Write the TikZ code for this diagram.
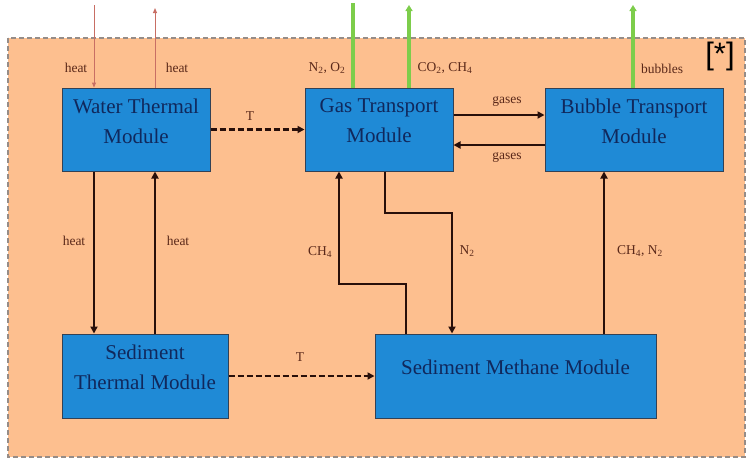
\documentclass[tikz,border=0pt]{standalone}
\usepackage{fontspec}
\setmainfont{Liberation Serif}
\newfontfamily\starfont{Liberation Sans}
\usetikzlibrary{arrows.meta,positioning}

\definecolor{lakebg}{RGB}{253,191,143}
\definecolor{lakeedge}{RGB}{150,140,135}
\definecolor{modfill}{RGB}{31,138,214}
\definecolor{modline}{RGB}{50,65,85}
\definecolor{modtext}{RGB}{16,40,92}
\definecolor{flowcol}{RGB}{40,15,10}
\definecolor{labcol}{RGB}{90,40,25}
\definecolor{gascol}{RGB}{125,205,75}
\definecolor{heatcol}{RGB}{200,110,100}

\tikzset{
  module/.style={draw=modline, fill=modfill, line width=1pt, inner sep=0pt},
  modtxt/.style={text=modtext, font=\fontsize{21}{30}\selectfont, align=center},
  flow/.style={draw=flowcol, line width=2.8pt, -{Triangle[length=7pt,width=7pt]}},
  tflow/.style={flow, dash pattern=on 6pt off 3pt},
  heatflow/.style={draw=heatcol, line width=1pt, -{Triangle[length=5pt,width=4pt]}},
  gasflow/.style={draw=gascol, line width=3.5pt, -{Triangle[length=6pt,width=7pt]}},
  lab/.style={text=labcol, font=\fontsize{13.5}{15}\selectfont},
}

\begin{document}
\begin{tikzpicture}[x=1pt, y=-1pt]
\useasboundingbox (0,0) rectangle (747,459);
\draw[lakeedge, fill=lakebg, line width=1.5pt, dash pattern=on 5pt off 3pt] (8,38) rectangle (745,457);

\node[module, minimum width=148pt, minimum height=83pt] (wtm) at (136,129.5) {};
\node[module, minimum width=148pt, minimum height=83pt] (gtm) at (379,129.5) {};
\node[module, minimum width=178pt, minimum height=83pt] (btm) at (634,129.5) {};
\node[module, minimum width=166pt, minimum height=84pt] (stm) at (145,376) {};
\node[module, minimum width=281pt, minimum height=84pt] (smm) at (515.5,376) {};

\node[modtxt] (wtmtxt) at (136,121) {Water Thermal\\Module};
\node[modtxt] (gtmtxt) at (379,121) {Gas Transport\\Module};
\node[modtxt] (btmtxt) at (634,121) {Bubble Transport\\Module};
\node[modtxt] (stmtxt) at (145,367) {Sediment\\Thermal Module};
\node[modtxt] (smmtxt) at (515.5,367) {Sediment Methane Module};

\coordinate (heatin) at (94,5);
\coordinate (heatout) at (155,8);
\coordinate (n2o2) at (353,3);
\coordinate (co2) at (409,5);
\coordinate (bub) at (633,5);
\coordinate (ch4a) at (406,284);
\coordinate (ch4b) at (339,284);
\coordinate (n2a) at (385,213);
\coordinate (n2b) at (452,213);
\coordinate (upgas) at (604,250);

\draw[heatflow] (heatin) -- (heatin |- wtm.north);
\draw[heatflow] (heatout |- wtm.north) -- (heatout);
\draw[gasflow, -] (n2o2) -- (n2o2 |- gtm.north);
\draw[gasflow] (co2 |- gtm.north) -- (co2);
\draw[gasflow] (bub |- btm.north) -- (bub);

\draw[tflow] (wtm.east) -- (gtm.west);
\draw[flow] ([yshift=14.5pt]gtm.east) -- ([yshift=14.5pt]btm.west);
\draw[flow] ([yshift=-15.5pt]btm.west) -- ([yshift=-15.5pt]gtm.east);
\draw[flow] (heatin |- wtm.south) -- (heatin |- stm.north);
\draw[flow] (heatout |- stm.north) -- (heatout |- wtm.south);
\draw[flow] (ch4a |- smm.north) -- (ch4a) -- (ch4b) -- (ch4b |- gtm.south);
\draw[flow] (n2a |- gtm.south) -- (n2a) -- (n2b) -- (n2b |- smm.north);
\draw[flow] (upgas |- smm.north) -- (upgas |- btm.south);
\draw[tflow] (stm.east) -- (smm.west);

\node[lab] (l1) at (76,68) {heat};
\node[lab] (l2) at (177,68) {heat};
\node[lab] (l3) at (327,68) {N\textsubscript{2}, O\textsubscript{2}};
\node[lab] (l4) at (445,68) {CO\textsubscript{2}, CH\textsubscript{4}};
\node[lab] (l5) at (662,69) {bubbles};
\node[lab] (l6) at (250,116) {T};
\node[lab] (l7) at (507,101) {gases};
\node[lab] (l8) at (507,157) {gases};
\node[lab] (l9) at (74,241) {heat};
\node[lab] (l10) at (178,241) {heat};
\node[lab] (l11) at (320,252) {CH\textsubscript{4}};
\node[lab] (l12) at (467,251) {N\textsubscript{2}};
\node[lab] (l13) at (640,251) {CH\textsubscript{4}, N\textsubscript{2}};
\node[lab] (l14) at (300,357) {T};
\node[text=black, font=\starfont\fontsize{31}{34}\selectfont] (star) at (720,56) {[*]};
\end{tikzpicture}
\end{document}
